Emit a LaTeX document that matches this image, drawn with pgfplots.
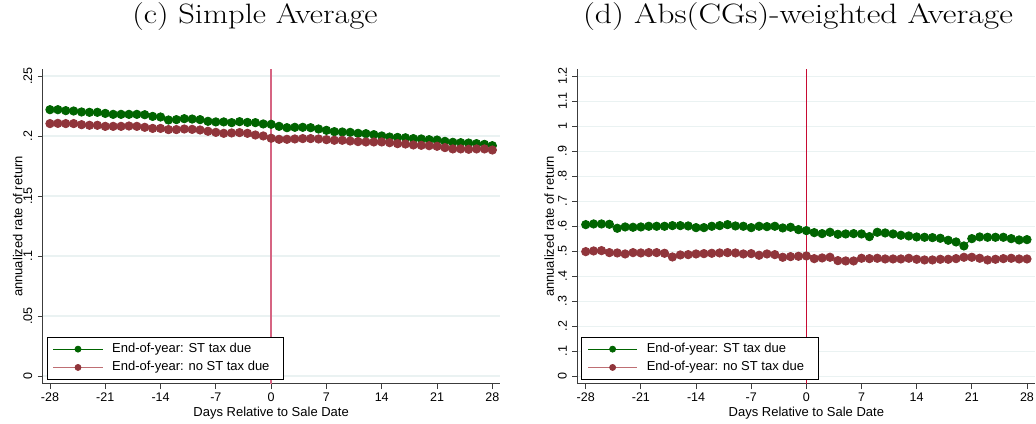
\documentclass[border=0pt]{standalone}
\usepackage{fontspec}
\usepackage{graphicx}
\usepackage{pgfplots}
\pgfplotsset{compat=1.18}
\usepackage{pgfplotstable}
\newfontfamily\arial{Liberation Sans}
\definecolor{dgreen}{RGB}{0,100,0}
\definecolor{cran}{RGB}{144,53,59}
\definecolor{cranline}{RGB}{190,110,115}
\definecolor{vlineA}{RGB}{214,100,130}
\definecolor{vlineB}{RGB}{200,10,50}
\definecolor{gridc}{RGB}{234,242,242}
\definecolor{spine}{RGB}{60,60,60}

\pgfplotstableread{
x y
-28 .2219
-27 .2219
-26 .2211
-25 .2208
-24 .2200
-23 .2197
-22 .2197
-21 .2188
-20 .2180
-19 .2180
-18 .2180
-17 .2180
-16 .2177
-15 .2163
-14 .2158
-13 .2133
-12 .2136
-11 .2144
-10 .2141
-9 .2136
-8 .2122
-7 .2117
-6 .2117
-5 .2111
-4 .2119
-3 .2113
-2 .2111
-1 .2100
0 .2097
1 .2080
2 .2069
3 .2072
4 .2072
5 .2069
6 .2058
7 .2047
8 .2036
9 .2033
10 .2030
11 .2022
12 .2019
13 .2011
14 .2000
15 .1991
16 .1988
17 .1985
18 .1978
19 .1975
20 .1969
21 .1966
22 .1955
23 .1947
24 .1944
25 .1941
26 .1936
27 .1930
28 .1919
}\Gleft

\pgfplotstableread{
x y
-28 .2103
-27 .2105
-26 .2103
-25 .2103
-24 .2094
-23 .2089
-22 .2089
-21 .2080
-20 .2080
-19 .2080
-18 .2083
-17 .2080
-16 .2072
-15 .2063
-14 .2063
-13 .2053
-12 .2053
-11 .2058
-10 .2055
-9 .2050
-8 .2039
-7 .2030
-6 .2022
-5 .2025
-4 .2028
-3 .2022
-2 .2008
-1 .2000
0 .1981
1 .1972
2 .1972
3 .1975
4 .1978
5 .1978
6 .1975
7 .1969
8 .1964
9 .1964
10 .1958
11 .1953
12 .1950
13 .1950
14 .1950
15 .1944
16 .1936
17 .1933
18 .1925
19 .1922
20 .1919
21 .1914
22 .1903
23 .1892
24 .1892
25 .1889
26 .1892
27 .1892
28 .1883
}\Rleft

\pgfplotstableread{
x y
-28 .6065
-27 .6092
-26 .6092
-25 .6079
-24 .5919
-23 .5972
-22 .5959
-21 .5972
-20 .5999
-19 .5999
-18 .5999
-17 .6025
-16 .6025
-15 .6012
-14 .5945
-13 .5945
-12 .5999
-11 .6025
-10 .6065
-9 .6012
-8 .5999
-7 .5945
-6 .5999
-5 .5985
-4 .5999
-3 .5932
-2 .5959
-1 .5865
0 .5825
1 .5745
2 .5705
3 .5759
4 .5679
5 .5692
6 .5705
7 .5692
8 .5585
9 .5759
10 .5732
11 .5692
12 .5639
13 .5612
14 .5572
15 .5559
16 .5545
17 .5519
18 .5439
19 .5372
20 .5212
21 .5505
22 .5572
23 .5559
24 .5559
25 .5559
26 .5505
27 .5452
28 .5465
}\Gright

\pgfplotstableread{
x y
-28 .4985
-27 .5012
-26 .5025
-25 .4945
-24 .4932
-23 .4892
-22 .4945
-21 .4932
-20 .4945
-19 .4945
-18 .4919
-17 .4772
-16 .4852
-15 .4865
-14 .4892
-13 .4905
-12 .4919
-11 .4932
-10 .4945
-9 .4932
-8 .4892
-7 .4905
-6 .4839
-5 .4892
-4 .4865
-3 .4759
-2 .4785
-1 .4799
0 .4812
1 .4705
2 .4732
3 .4759
4 .4625
5 .4612
6 .4612
7 .4719
8 .4705
9 .4719
10 .4692
11 .4692
12 .4692
13 .4719
14 .4679
15 .4652
16 .4652
17 .4679
18 .4679
19 .4705
20 .4759
21 .4759
22 .4719
23 .4652
24 .4679
25 .4705
26 .4719
27 .4692
28 .4692
}\Rright

\pgfplotsset{stata/.style={
  scale only axis, axis lines=left,
  axis line style={-, spine, line width=1pt},
  tick align=outside, major tick length=5pt,
  tick style={spine, line width=0.8pt},
  xtick={-28,-21,-14,-7,0,7,14,21,28},
  xticklabels={-28,-21,-14,-7,0,7,14,21,28},
  ticklabel style={font=\arial\fontsize{12.5}{14}\selectfont},
  yticklabel style={rotate=90, anchor=south, yshift=2pt},
  ymajorgrids, grid style={gridc, line width=1.2pt},
  label style={font=\arial\fontsize{13}{15}\selectfont},
  xlabel={Days Relative to Sale Date},
  ylabel={annualized rate of return},
  xlabel style={at={(axis description cs:0.5,0)}, anchor=center, yshift=-29pt},
  legend cell align=left,
  legend style={at={(axis description cs:0,0)}, anchor=south west,
    xshift=4pt, yshift=4pt, draw=black, line width=0.8pt, fill=white,
    font=\arial\fontsize{13}{15}\selectfont, inner xsep=6pt, inner ysep=3pt,
    nodes={inner xsep=0pt, inner ysep=3.15pt, text height=9.5pt, text depth=2.5pt},
    /tikz/every odd column/.append style={column sep=9.3pt}},
  legend image code/.code={\draw[#1, mark size=3pt, mark repeat=2, mark phase=2] plot coordinates {(0pt,0pt) (24.5pt,0pt) (49pt,0pt)};},
}}

\begin{document}
\begin{tikzpicture}
\path[use as bounding box] (0,0) rectangle (1036pt,423pt);
\node[font=\fontsize{28}{30}\selectfont] at (255pt,406pt) {\scalebox{1.16}[1]{(c) Simple Average}};
\node[font=\fontsize{28}{30}\selectfont] at (798pt,406pt) {\scalebox{1.2}[1]{(d) Abs(CGs)-weighted Average}};

\begin{axis}[stata, at={(42.7pt,39pt)}, anchor=south west,
  width=456.9pt, height=315pt,
  xmin=-28.92, xmax=28.92, ymin=-0.0067, ymax=0.2558,
  ytick={0,0.05,0.1,0.15,0.2,0.25},
  yticklabels={0,.05,.1,.15,.2,.25},
  ylabel style={at={(axis description cs:0,0.5)}, anchor=center, yshift=25pt}]
\addplot[dgreen, line width=0.8pt, mark=*, mark size=4.2pt, mark options={fill=dgreen, draw=dgreen}] table {\Gleft};
\addlegendentry{End-of-year: ST tax due}
\addplot[cranline, line width=0.8pt, mark=*, mark size=4.2pt, mark options={fill=cran, draw=cran}] table {\Rleft};
\addlegendentry{End-of-year: no ST tax due\hspace*{8pt}}
\addplot[vlineA, line width=1.5pt, forget plot] coordinates {(0,-0.0067) (0,0.2558)};
\end{axis}

\begin{axis}[stata, at={(577.3pt,39pt)}, anchor=south west,
  width=458.1pt, height=315pt,
  xmin=-29.07, xmax=29.07, ymin=-0.031, ymax=1.229,
  ytick={0,0.1,0.2,0.3,0.4,0.5,0.6,0.7,0.8,0.9,1,1.1,1.2},
  yticklabels={0,.1,.2,.3,.4,.5,.6,.7,.8,.9,1,1.1,1.2},
  ylabel style={at={(axis description cs:0,0.5)}, anchor=center, yshift=28pt}]
\addplot[dgreen, line width=0.8pt, mark=*, mark size=4.2pt, mark options={fill=dgreen, draw=dgreen}] table {\Gright};
\addlegendentry{End-of-year: ST tax due}
\addplot[cranline, line width=0.8pt, mark=*, mark size=4.2pt, mark options={fill=cran, draw=cran}] table {\Rright};
\addlegendentry{End-of-year: no ST tax due\hspace*{8pt}}
\addplot[vlineB, line width=1pt, forget plot] coordinates {(0,-0.031) (0,1.229)};
\end{axis}
\end{tikzpicture}
\end{document}
